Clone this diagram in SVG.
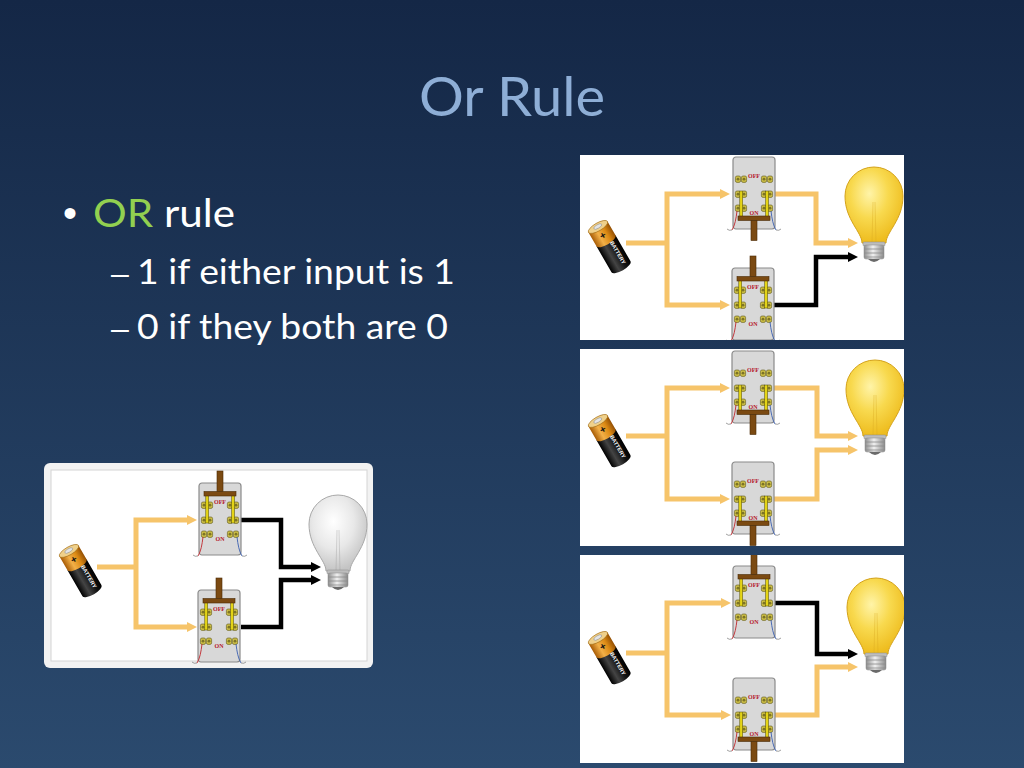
<svg xmlns="http://www.w3.org/2000/svg" width="1024" height="768" viewBox="0 0 1024 768">
<defs>
  <linearGradient id="gBg" x1="0" y1="0" x2="0" y2="1">
    <stop offset="0" stop-color="#142746"/>
    <stop offset="1" stop-color="#2b4a6e"/>
  </linearGradient>
  <radialGradient id="gOn" cx="0.42" cy="0.35" r="0.65">
    <stop offset="0" stop-color="#fff4a8"/>
    <stop offset="0.5" stop-color="#f8d94e"/>
    <stop offset="1" stop-color="#eebc1e"/>
  </radialGradient>
  <radialGradient id="gOff" cx="0.42" cy="0.35" r="0.65">
    <stop offset="0" stop-color="#ffffff"/>
    <stop offset="0.55" stop-color="#e8e8e8"/>
    <stop offset="1" stop-color="#c4c4c4"/>
  </radialGradient>
  <linearGradient id="gBase" x1="0" y1="0" x2="1" y2="0">
    <stop offset="0" stop-color="#8e8e8e"/>
    <stop offset="0.45" stop-color="#f0f0f0"/>
    <stop offset="1" stop-color="#8a8a8a"/>
  </linearGradient>
  <linearGradient id="gOrg" x1="0" y1="0" x2="1" y2="0">
    <stop offset="0" stop-color="#a85c06"/>
    <stop offset="0.35" stop-color="#f2b048"/>
    <stop offset="0.7" stop-color="#dc8a14"/>
    <stop offset="1" stop-color="#945004"/>
  </linearGradient>
  <linearGradient id="gBlk" x1="0" y1="0" x2="1" y2="0">
    <stop offset="0" stop-color="#000"/>
    <stop offset="0.35" stop-color="#444"/>
    <stop offset="0.7" stop-color="#121212"/>
    <stop offset="1" stop-color="#000"/>
  </linearGradient>
  <marker id="ay" viewBox="0 0 10 10" refX="0" refY="5" markerWidth="10" markerHeight="10" markerUnits="userSpaceOnUse" orient="auto-start-reverse">
    <path d="M0,0 L10,5 L0,10 Z" fill="#f6c46a"/>
  </marker>
  <marker id="ak" viewBox="0 0 10 10" refX="0" refY="5" markerWidth="10" markerHeight="10" markerUnits="userSpaceOnUse" orient="auto-start-reverse">
    <path d="M0,0 L10,5 L0,10 Z" fill="#000"/>
  </marker>
  <clipPath id="c1"><rect x="580" y="155" width="324" height="185"/></clipPath>
  <clipPath id="c2"><rect x="580" y="349" width="324" height="197"/></clipPath>
  <clipPath id="c3"><rect x="580" y="555" width="324" height="208"/></clipPath>
  <clipPath id="cL"><rect x="44" y="463" width="329" height="205" rx="6"/></clipPath>

  <g id="scr">
    <rect x="0" y="0" width="5.2" height="6.4" rx="1.6" fill="#cdbf46" stroke="#5e5718" stroke-width="0.6"/>
    <circle cx="2.6" cy="3.2" r="1.4" fill="#7d7426"/>
  </g>
  <g id="swBase">
    <rect x="0" y="0" width="42" height="72" rx="3" fill="#d8d8d8" stroke="#8a8a8a" stroke-width="1.2"/>
    <use href="#scr" x="2.4" y="19"/><use href="#scr" x="8.4" y="19"/>
    <use href="#scr" x="28.4" y="19"/><use href="#scr" x="34.4" y="19"/>
    <use href="#scr" x="2.4" y="34"/><use href="#scr" x="8.4" y="34"/>
    <use href="#scr" x="28.4" y="34"/><use href="#scr" x="34.4" y="34"/>
    <use href="#scr" x="2.4" y="48"/><use href="#scr" x="8.4" y="48"/>
    <use href="#scr" x="28.4" y="48"/><use href="#scr" x="34.4" y="48"/>
    <text x="21" y="21" class="lbl">OFF</text>
    <text x="21" y="58" class="lbl">ON</text>
    <path d="M4 54 C3 62 2 68 -1 73" fill="none" stroke="#c0282e" stroke-width="0.9"/>
    <path d="M-1 73 q-3 1 -5 -1" fill="none" stroke="#777" stroke-width="0.7"/>
    <path d="M38 54 C39 62 40 68 43 73" fill="none" stroke="#3a5fb0" stroke-width="0.9"/>
    <path d="M43 73 q3 1 5 -1" fill="none" stroke="#777" stroke-width="0.7"/>
  </g>
  <g id="swOn">
    <use href="#swBase"/>
    <rect class="yb" x="6.8" y="34" width="2.8" height="26"/>
    <rect class="yb" x="32.7" y="34" width="2.8" height="26"/>
    <rect class="br" x="5" y="59" width="32" height="4.5"/>
    <rect class="br" x="18" y="63.5" width="6" height="20"/>
  </g>
  <g id="swOff">
    <use href="#swBase"/>
    <rect class="yb" x="6.8" y="12" width="2.8" height="28"/>
    <rect class="yb" x="32.7" y="12" width="2.8" height="28"/>
    <rect class="br" x="5" y="8.5" width="32" height="4.5"/>
    <rect class="br" x="18" y="-12" width="6" height="20.5"/>
  </g>
  <g id="battery">
    <path d="M -11 -6 V 24 A 11 4 0 0 0 11 24 V -6 Z" fill="url(#gBlk)"/>
    <path d="M -11 -22 V -6 A 11 4 0 0 0 11 -6 V -22 Z" fill="url(#gOrg)"/>
    <ellipse cx="0" cy="-22" rx="11" ry="4" fill="#efd08a" stroke="#a0680c" stroke-width="0.6"/>
    <ellipse cx="0" cy="-22.5" rx="4.5" ry="1.8" fill="#e4e4e4" stroke="#8a8a8a" stroke-width="0.5"/>
    <text x="0" y="-9" class="plus">+</text>
    <text transform="translate(2.5,10) rotate(90)" class="bt">BATTERY</text>
  </g>
  <g id="bulbBase">
    <rect x="-11" y="46" width="22" height="4" rx="1" fill="#bdbdbd" stroke="#8a8a8a" stroke-width="0.5"/>
    <rect x="-10" y="49" width="20" height="14" rx="2" fill="url(#gBase)" stroke="#8a8a8a" stroke-width="0.5"/>
    <path d="M -10 53 H 10 M -10 57 H 10 M -10 61 H 10" stroke="#8c8c8c" stroke-width="0.8"/>
    <path d="M -6 63 Q 0 69 6 63 Z" fill="#6a6a6a"/>
  </g>
  <g id="bulbOn">
    <path d="M -12 47 C -12 36 -29 24 -29 0 A 29 29 0 0 1 29 0 C 29 24 12 36 12 47 Z" fill="url(#gOn)" stroke="#d4a21a" stroke-width="1"/>
    <path d="M -2 47 L -1 6 M 2 47 L 1 6" stroke="#d9a820" stroke-width="0.6" opacity="0.6"/>
    <use href="#bulbBase"/>
  </g>
  <g id="bulbOff">
    <path d="M -12 47 C -12 36 -29 24 -29 0 A 29 29 0 0 1 29 0 C 29 24 12 36 12 47 Z" fill="url(#gOff)" stroke="#a8a8a8" stroke-width="1"/>
    <path d="M -2 47 L -1 6 M 2 47 L 1 6" stroke="#9a9a9a" stroke-width="0.6" opacity="0.6"/>
    <use href="#bulbBase"/>
  </g>
</defs>
<style>
  .lbl { font-family: "Liberation Serif", serif; font-weight: bold; font-size: 6px; fill: #b5162a; text-anchor: middle; }
  .plus { font-family: "Liberation Sans", sans-serif; font-weight: bold; font-size: 10px; fill: #111; text-anchor: middle; }
  .bt { font-family: "Liberation Sans", sans-serif; font-weight: bold; font-size: 5.5px; fill: #fff; text-anchor: middle; }
  .yb { fill: #e4d417; stroke: #4a4500; stroke-width: 0.5; }
  .br { fill: #7b4a12; stroke: #4a2a05; stroke-width: 0.6; }
  .wy { fill: none; stroke: #f6c46a; stroke-width: 5; stroke-linejoin: miter; }
  .wk { fill: none; stroke: #000; stroke-width: 4.5; stroke-linejoin: miter; }
  .txt { font-family: Lato, "Liberation Sans", sans-serif; fill: #ffffff; }
  .dash { font-family: "Liberation Sans", sans-serif; fill: #ffffff; }
</style>

<rect x="0" y="0" width="1024" height="768" fill="url(#gBg)"/>

<g id="title">
  <text x="512" y="116" text-anchor="middle" font-family="Lato, 'Liberation Sans', sans-serif" font-size="55" fill="#8eaed6" textLength="186" lengthAdjust="spacingAndGlyphs">Or Rule</text>
</g>
<g id="bullets">
  <text x="63" y="227" font-family="'Liberation Sans', sans-serif" font-size="40" fill="#fff">•</text>
  <text x="93" y="227" font-size="38" class="txt" textLength="142" lengthAdjust="spacingAndGlyphs"><tspan fill="#92d050">OR</tspan> rule</text>
  <text x="111" y="284" font-size="32" class="dash">–</text>
  <text x="137" y="284" font-size="35" class="txt" textLength="318" lengthAdjust="spacingAndGlyphs">1 if either input is 1</text>
  <text x="111" y="339" font-size="32" class="dash">–</text>
  <text x="137" y="339" font-size="35" class="txt" textLength="311" lengthAdjust="spacingAndGlyphs">0 if they both are 0</text>
</g>

<g id="panels">
  <rect x="580" y="155" width="324" height="185" fill="#ffffff"/>
  <rect x="580" y="349" width="324" height="197" fill="#ffffff"/>
  <rect x="580" y="555" width="324" height="208" fill="#ffffff"/>
  <rect x="44" y="463" width="329" height="205" rx="6" fill="#f2f2f2"/>
  <rect x="51" y="470" width="316" height="191" fill="#ffffff" stroke="#d4d4d4" stroke-width="1"/>
</g>

<g id="connectors">
  <path class="wy" d="M 626 243 H 667"/>
  <path class="wy" d="M 720 194 H 667 V 305 H 720" marker-start="url(#ay)" marker-end="url(#ay)"/>
  <path class="wy" d="M 774 194 H 816 V 243 H 848" marker-end="url(#ay)"/>
  <path class="wk" d="M 774 305 H 816 V 257 H 848" marker-end="url(#ak)"/>
  <path class="wy" d="M 626 436 H 667"/>
  <path class="wy" d="M 720 388 H 667 V 499 H 720" marker-start="url(#ay)" marker-end="url(#ay)"/>
  <path class="wy" d="M 774 388 H 817 V 436 H 848" marker-end="url(#ay)"/>
  <path class="wy" d="M 774 499 H 817 V 450 H 848" marker-end="url(#ay)"/>
  <path class="wy" d="M 626 653 H 667"/>
  <path class="wy" d="M 721 603 H 667 V 715 H 721" marker-start="url(#ay)" marker-end="url(#ay)"/>
  <path class="wk" d="M 775 603 H 817 V 654 H 848" marker-end="url(#ak)"/>
  <path class="wy" d="M 775 715 H 817 V 667 H 848" marker-end="url(#ay)"/>
  <path class="wy" d="M 97 567 H 136"/>
  <path class="wy" d="M 187 520 H 136 V 627 H 187" marker-start="url(#ay)" marker-end="url(#ay)"/>
  <path class="wk" d="M 241 520 H 281 V 567 H 311" marker-end="url(#ak)"/>
  <path class="wk" d="M 241 627 H 281 V 580 H 311" marker-end="url(#ak)"/>
</g>

<g id="p1-battery" clip-path="url(#c1)"><use href="#battery" transform="translate(609,246) rotate(-30)"/></g>
<g id="p1-switch-top" clip-path="url(#c1)"><use href="#swOn" x="733" y="157"/></g>
<g id="p1-switch-bottom" clip-path="url(#c1)"><use href="#swOff" x="732" y="268"/></g>
<g id="p1-bulb" clip-path="url(#c1)"><use href="#bulbOn" transform="translate(874,196)"/></g>

<g id="p2-battery" clip-path="url(#c2)"><use href="#battery" transform="translate(609,440) rotate(-30)"/></g>
<g id="p2-switch-top" clip-path="url(#c2)"><use href="#swOn" x="732" y="351"/></g>
<g id="p2-switch-bottom" clip-path="url(#c2)"><use href="#swOn" x="732" y="462"/></g>
<g id="p2-bulb" clip-path="url(#c2)"><use href="#bulbOn" transform="translate(875,389)"/></g>

<g id="p3-battery" clip-path="url(#c3)"><use href="#battery" transform="translate(609,657) rotate(-30)"/></g>
<g id="p3-switch-top" clip-path="url(#c3)"><use href="#swOff" x="733" y="566"/></g>
<g id="p3-switch-bottom" clip-path="url(#c3)"><use href="#swOn" x="733" y="678"/></g>
<g id="p3-bulb" clip-path="url(#c3)"><use href="#bulbOn" transform="translate(876,607)"/></g>

<g id="pL-battery" clip-path="url(#cL)"><use href="#battery" transform="translate(80,570) rotate(-30)"/></g>
<g id="pL-switch-top" clip-path="url(#cL)"><use href="#swOff" x="199" y="483"/></g>
<g id="pL-switch-bottom" clip-path="url(#cL)"><use href="#swOff" x="198" y="590"/></g>
<g id="pL-bulb" clip-path="url(#cL)"><use href="#bulbOff" transform="translate(338,524)"/></g>
</svg>
